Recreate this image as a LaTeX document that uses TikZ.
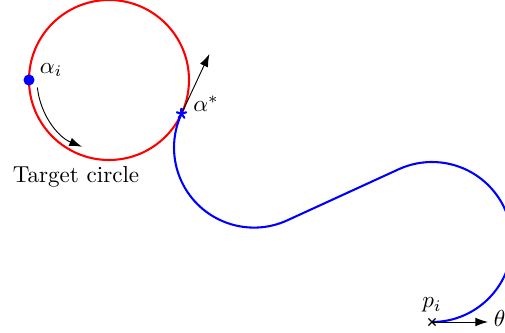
\documentclass[tikz,border=0pt]{standalone}
\usetikzlibrary{arrows.meta, calc, positioning}
\begin{document}
\begin{tikzpicture}[
    x=0.433pt, y=0.433pt,
    target/.style={draw=red, line width=0.9pt},
    dubins/.style={draw=blue, line width=0.9pt},
    vec/.style={-{Latex[length=5.5pt, width=3.8pt]}, line width=0.4pt},
    lbl/.style={inner sep=1pt},
]
\useasboundingbox (0,0) rectangle (505,333);

% ── Target circle ──────────────────────────────────────────────
\coordinate (T) at (109,253);
\draw[target] (T) circle (80);
\node[lbl] (tlbl) at (76,156) {Target circle};

% ── Initial angle on the circle ────────────────────────────────
\node[circle, fill=blue, inner sep=0pt, minimum size=4.8pt] (ai) at ($(T)+(180:80)$) {};
\node[lbl, anchor=west] (ailbl) at ($(ai)+(8,10)$) {$\alpha_i$};
\draw[vec] ($(T)+(186:72)$) arc[start angle=186, end angle=248, radius=72];

% ── Dubins path from p_i to alpha* ─────────────────────────────
\coordinate (pi) at (432,11);
\coordinate (as) at ($(T)+(-25:80)$);
\draw[dubins] (pi) arc[start angle=-90, end angle=114.63, radius=80]
    -- ++(204.63:122.46)
    arc[start angle=294.63, end angle=155, radius=80];

% ── Optimal angle alpha* ───────────────────────────────────────
\coordinate (tip) at ($(as)+(65:66)$);
\draw[vec] (as) -- (tip);
\foreach \a in {90,162,234,306,378}
    \draw[blue, line width=0.9pt, line cap=round] (as) -- ++(\a:5);
\node[lbl, anchor=west] (aslbl) at ($(as)+(9,10)$) {$\alpha^*$};

% ── Start pose ─────────────────────────────────────────────────
\draw[line width=0.6pt] plot[only marks, mark=x, mark size=2.2pt] coordinates {(pi)};
\node[lbl, above=3pt of pi] (pilbl) {$p_i$};
\coordinate (thtip) at ($(pi)+(56,0)$);
\draw[vec] (pi) -- (thtip);
\node[lbl, anchor=west] (thlbl) at ($(thtip)+(3,2)$) {$\theta_i$};

\end{tikzpicture}
\end{document}
